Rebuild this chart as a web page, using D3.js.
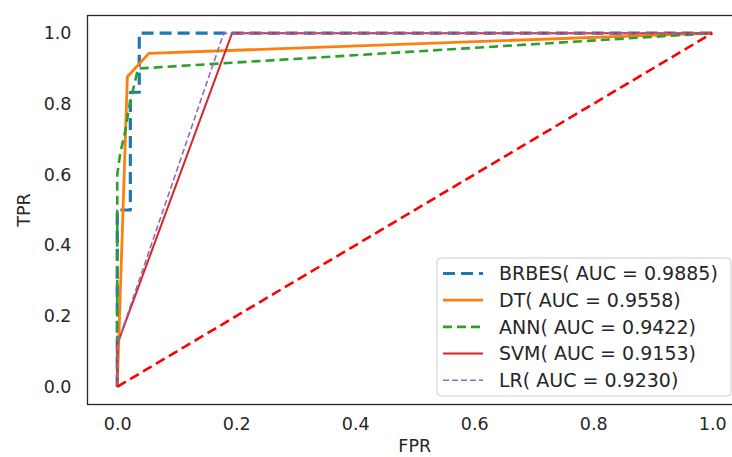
<!DOCTYPE html>
<html>
<head>
<meta charset="utf-8">
<script src="https://cdn.jsdelivr.net/npm/d3@7"></script>
<style>
  body { margin: 0; background: #fff; }
  svg { display: block; font-family: "DejaVu Sans", sans-serif; }
</style>
</head>
<body>
<div class="roc"></div>
<script>
// ROC points
var brbesFpr = [0, 0, 0.022, 0.022, 0.037, 0.037, 1];
var brbesTpr = [0, 0.5, 0.5, 0.833, 0.833, 1, 1];
var dtFpr = [0, 0.017, 0.053, 1];
var dtTpr = [0, 0.877, 0.943, 1];
var annFpr = [0, 0, 0.005, 0.013, 0.021, 0.035, 1];
var annTpr = [0, 0.6, 0.66, 0.72, 0.8, 0.9, 1];
var svmFpr = [0, 0, 0.193, 1];
var svmTpr = [0, 0.12, 1, 1];
var lrFpr = [0, 0, 0.179, 1];
var lrTpr = [0, 0.12, 1, 1];
var chanceFpr = [0, 1];
var chanceTpr = [0, 1];

var labels = ["BRBES( AUC = 0.9885)", "DT( AUC = 0.9558)", "ANN( AUC = 0.9422)",
              "SVM( AUC = 0.9153)", "LR( AUC = 0.9230)"];
var xTicks = [0, 0.2, 0.4, 0.6, 0.8, 1.0];
var yTicks = [0, 0.2, 0.4, 0.6, 0.8, 1.0];

var series = [
    { fpr: brbesFpr, tpr: brbesTpr, color: "#1f77b4", width: 3.2, dash: "12,6" },
    { fpr: dtFpr, tpr: dtTpr, color: "#ff7f0e", width: 2.8, dash: null },
    { fpr: annFpr, tpr: annTpr, color: "#2ca02c", width: 2.6, dash: "9,5" },
    { fpr: svmFpr, tpr: svmTpr, color: "#d62728", width: 2, dash: null },
    { fpr: lrFpr, tpr: lrTpr, color: "#9467bd", width: 1.6, dash: "6,3" }
];

var width = 732, height = 457;
var plotLeft = 87.5, plotRight = 742, plotTop = 15.5, plotBottom = 404.5;

var svg = d3.select(".roc").append("svg")
    .attr("width", width)
    .attr("height", height);

var x = d3.scaleLinear().domain([-0.05, 1.05]).range([plotLeft, plotRight]);
var y = d3.scaleLinear().domain([-0.05, 1.05]).range([plotBottom, plotTop]);

var textColor = "#262626";

// axes (no tick marks, seaborn white style)
var xAxis = svg.append("g")
    .attr("transform", "translate(0," + plotBottom + ")")
    .call(d3.axisBottom(x).tickValues(xTicks).tickFormat(d3.format(".1f")).tickSize(0).tickPadding(13));
var yAxis = svg.append("g")
    .attr("transform", "translate(" + plotLeft + ",0)")
    .call(d3.axisLeft(y).tickValues(yTicks).tickFormat(d3.format(".1f")).tickSize(0).tickPadding(16));
[xAxis, yAxis].forEach(function (a) {
    a.select(".domain").remove();
    a.selectAll("text").attr("fill", textColor).style("font-size", "17.5px")
        .style("font-family", "DejaVu Sans");
});

svg.append("text")
    .attr("x", (plotLeft + plotRight) / 2)
    .attr("y", 452)
    .attr("text-anchor", "middle")
    .attr("fill", textColor)
    .style("font-size", "17.5px")
    .text("FPR");

svg.append("text")
    .attr("transform", "translate(30," + y(0.5) + ") rotate(-90)")
    .attr("text-anchor", "middle")
    .attr("fill", textColor)
    .style("font-size", "17.5px")
    .text("TPR");

var line = d3.line()
    .x(function (d) { return x(d[0]); })
    .y(function (d) { return y(d[1]); });

var plot = svg.append("g");

series.forEach(function (s) {
    var pts = s.fpr.map(function (f, i) { return [f, s.tpr[i]]; });
    plot.append("path")
        .attr("d", line(pts))
        .attr("fill", "none")
        .attr("stroke", s.color)
        .attr("stroke-width", s.width)
        .attr("stroke-dasharray", s.dash)
        .attr("stroke-linejoin", "round");
});

// chance line
plot.append("path")
    .attr("d", line(chanceFpr.map(function (f, i) { return [f, chanceTpr[i]]; })))
    .attr("fill", "none")
    .attr("stroke", "#ff0000")
    .attr("stroke-width", 2.6)
    .attr("stroke-dasharray", "10,5");

// frame
svg.append("rect")
    .attr("x", plotLeft).attr("y", plotTop)
    .attr("width", plotRight - plotLeft).attr("height", plotBottom - plotTop)
    .attr("fill", "none")
    .attr("stroke", textColor)
    .attr("stroke-width", 1.3);

// legend
var legend = svg.append("g");
legend.append("rect")
    .attr("x", 437).attr("y", 258)
    .attr("width", 294).attr("height", 138)
    .attr("rx", 4)
    .attr("fill", "#fff").attr("fill-opacity", 0.8)
    .attr("stroke", "#cccccc");

labels.forEach(function (lab, i) {
    var s = series[i];
    var cy = 273.5 + i * 26.7;
    legend.append("line")
        .attr("x1", 443).attr("x2", 483)
        .attr("y1", cy).attr("y2", cy)
        .attr("stroke", s.color)
        .attr("stroke-width", s.width)
        .attr("stroke-dasharray", s.dash);
    legend.append("text")
        .attr("x", 499).attr("y", cy)
        .attr("dy", "0.35em")
        .attr("fill", textColor)
        .style("font-size", "19px")
        .text(lab);
});
</script>
</body>
</html>
